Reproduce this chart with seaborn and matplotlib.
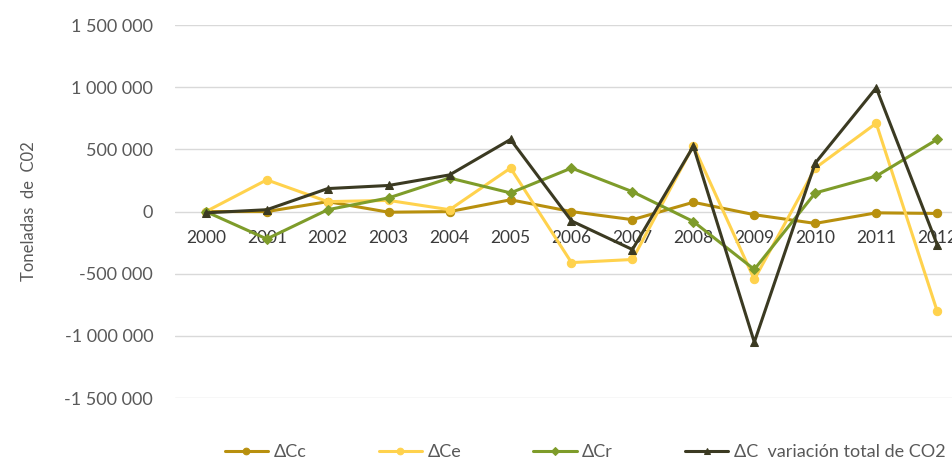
import matplotlib
matplotlib.use('Agg')

import pandas as pd
import matplotlib.pyplot as plt
import seaborn as sns

# ---------------- data (tonnes of CO2) ----------------
years = ['2000', '2001', '2002', '2003', '2004', '2005', '2006',
         '2007', '2008', '2009', '2010', '2011', '2012']
delta_cc = [0, 0, 80000, -5000, 0, 95000, 0,
            -65000, 75000, -25000, -95000, -10000, -15000]
delta_ce = [0, 255000, 80000, 90000, 15000, 350000, -410000,
            -385000, 530000, -545000, 350000, 710000, -800000]
delta_cr = [0, -220000, 15000, 110000, 270000, 150000, 350000,
            160000, -80000, -465000, 150000, 285000, 580000]
delta_total = [-10000, 15000, 185000, 210000, 295000, 580000, -75000,
               -305000, 525000, -1050000, 390000, 995000, -265000]

series_names = ['ΔCc', 'ΔCe', 'ΔCr', 'ΔC  variación total de CO2']
series_values = [delta_cc, delta_ce, delta_cr, delta_total]
series_colors = ['#B8900E', '#FFD24D', '#7E9C2A', '#3B3A22']
series_markers = ['o', 'o', 'D', '^']
y_ticks = [-1500000, -1000000, -500000, 0, 500000, 1000000, 1500000]

rows = []
for name, vals in zip(series_names, series_values):
    for i, v in enumerate(vals):
        rows.append({'pos': i, 'year': years[i], 'serie': name, 'valor': v})
df = pd.DataFrame(rows)

sns.set_style('white')
plt.rcParams['font.family'] = ['Lato', 'DejaVu Sans']

fig = plt.figure(figsize=(9.53, 4.63), dpi=100)
ax = fig.add_axes([0.184, 0.140, 0.816, 0.806])

for name, color, mk in zip(series_names, series_colors, series_markers):
    sub = df[df['serie'] == name]
    sns.lineplot(data=sub, x='pos', y='valor', ax=ax, color=color, marker=mk,
                 markersize=6 if mk != 'D' else 5, markeredgecolor=color,
                 linewidth=2.2, label=name, legend=False)

ax.set_ylim(-1500000, 1500000)
ax.set_xlim(-0.5, 12.26)
ax.set_yticks(y_ticks)
ax.set_yticklabels([f'{v:,}'.replace(',', ' ') for v in y_ticks])
ax.yaxis.grid(True, color='#D9D9D9', linewidth=1)
ax.set_axisbelow(True)
for sp in ax.spines.values():
    sp.set_visible(False)

# category axis sits at zero, labels just under it
ax.spines['bottom'].set_position(('data', 0))
ax.set_xticks(range(len(years)))
ax.set_xticklabels(years)
ax.tick_params(axis='x', length=0, pad=13, labelsize=12.5, labelcolor='#3A3A3A')
ax.tick_params(axis='y', length=0, pad=16, labelsize=13, labelcolor='#595959')
ax.set_xlabel('')
ax.set_ylabel('Toneladas  de  C02', fontsize=12, color='#595959')
ax.yaxis.set_label_coords(-0.178, 0.5)

handles, labels = ax.get_legend_handles_labels()
fig.legend(handles, labels, loc='center', bbox_to_anchor=(0.614, 0.024),
           ncol=4, frameon=False, fontsize=13, labelcolor='#595959',
           handlelength=2.4, columnspacing=4.0, handletextpad=0.3,
           markerscale=0.8)

plt.savefig('out.png', dpi=100)
plt.close()
